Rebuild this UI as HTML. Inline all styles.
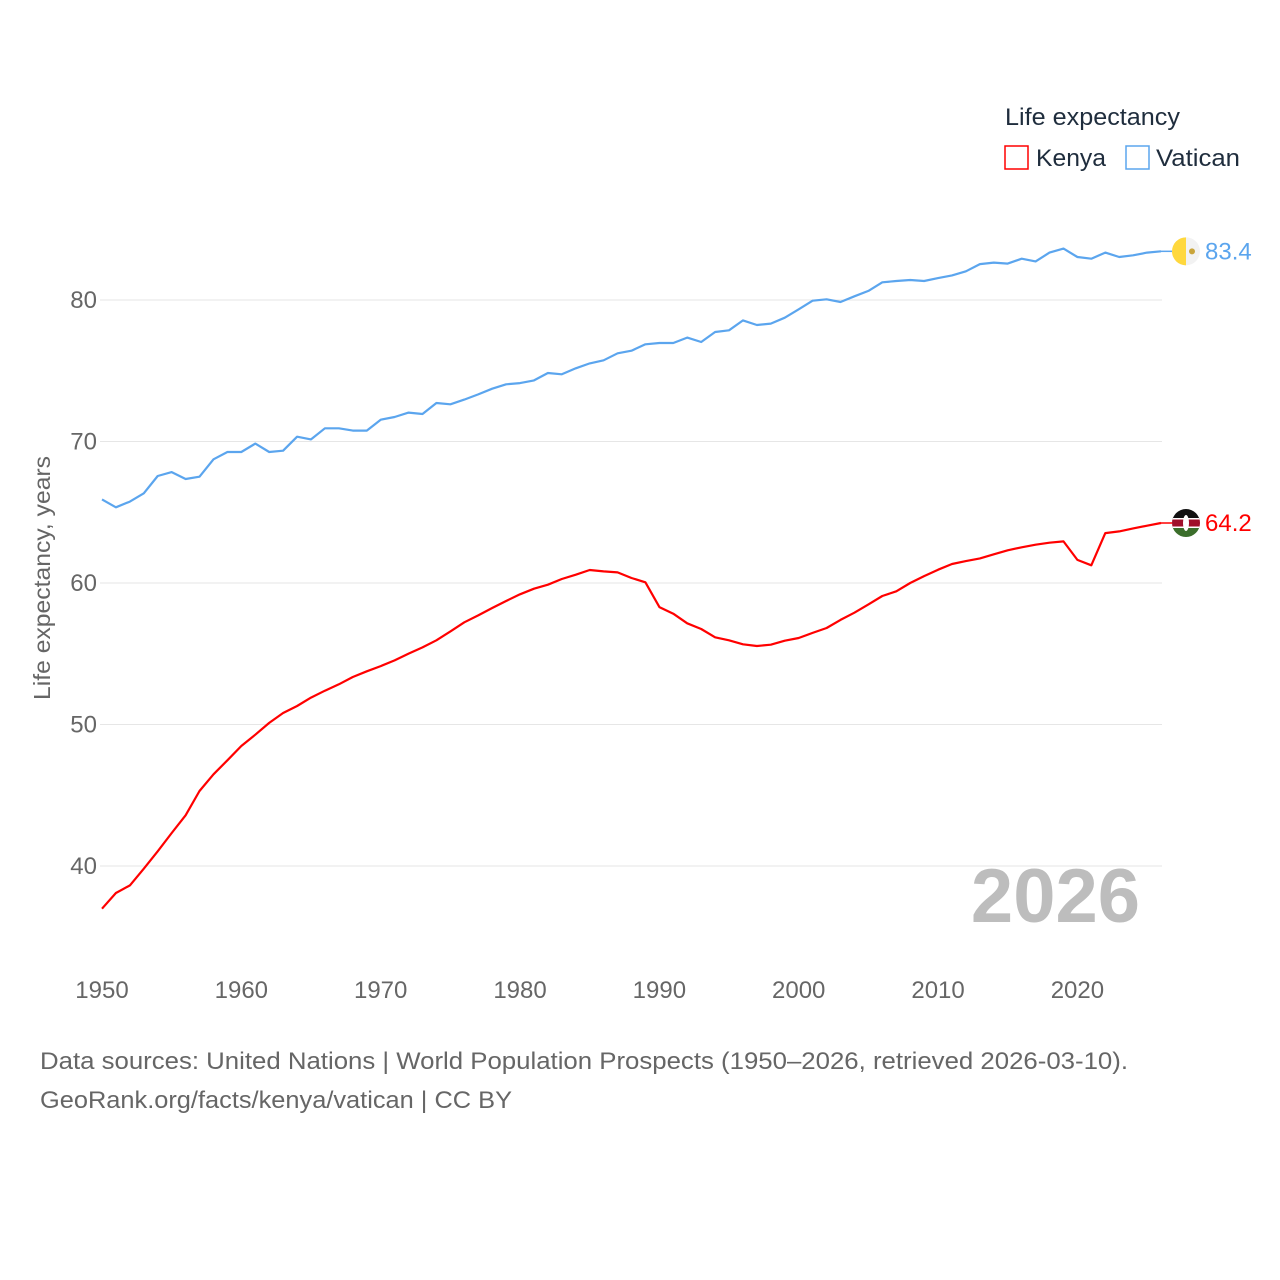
<!DOCTYPE html>
<html><head><meta charset="utf-8"><style>
body{margin:0;background:#fff;}
svg{display:block;font-family:"Liberation Sans",sans-serif;}
</style></head><body>
<svg id="chart" width="1280" height="1280" viewBox="0 0 1280 1280">
<g id="grid"></g>
<g id="yticks"></g>
<g id="xticks"></g>
<text transform="translate(50,578) rotate(-90)" text-anchor="middle" font-size="23" fill="#666" textLength="244" lengthAdjust="spacingAndGlyphs">Life expectancy, years</text>
<text x="1140" y="922" text-anchor="end" font-size="76" font-weight="bold" fill="#bdbdbd">2026</text>
<g id="lines"></g>
<g>
<text x="1005" y="125" font-size="24" fill="#1f2d3d" textLength="175" lengthAdjust="spacingAndGlyphs">Life expectancy</text>
<rect x="1005" y="146" width="23" height="23" fill="none" stroke="#f00" stroke-width="1.5"/>
<text x="1036" y="166" font-size="24" fill="#1f2d3d" textLength="70" lengthAdjust="spacingAndGlyphs">Kenya</text>
<rect x="1126" y="146" width="23" height="23" fill="none" stroke="#5ba5ee" stroke-width="1.5"/>
<text x="1156" y="166" font-size="24" fill="#1f2d3d" textLength="84" lengthAdjust="spacingAndGlyphs">Vatican</text>
</g>
<g id="ends"></g>
<text x="40" y="1069" font-size="24" fill="#666" textLength="1088" lengthAdjust="spacingAndGlyphs">Data sources: United Nations | World Population Prospects (1950–2026, retrieved 2026-03-10).</text>
<text x="40" y="1108" font-size="24" fill="#666" textLength="472" lengthAdjust="spacingAndGlyphs">GeoRank.org/facts/kenya/vatican | CC BY</text>
</svg>
<script>
const years = [];
for (let y = 1950; y <= 2026; y++) years.push(y);
const kenya = [36.98,38.09,38.63,39.81,41.04,42.33,43.58,45.30,46.48,47.47,48.48,49.28,50.11,50.81,51.31,51.90,52.39,52.84,53.36,53.76,54.13,54.53,55.01,55.45,55.95,56.58,57.22,57.71,58.23,58.73,59.20,59.60,59.88,60.28,60.59,60.92,60.82,60.75,60.35,60.05,58.30,57.83,57.15,56.75,56.16,55.95,55.67,55.55,55.64,55.92,56.11,56.47,56.82,57.39,57.90,58.49,59.08,59.41,60.00,60.49,60.94,61.34,61.55,61.74,62.03,62.31,62.52,62.71,62.85,62.94,61.63,61.25,63.53,63.65,63.86,64.05,64.24];
const vatican = [65.91,65.35,65.75,66.34,67.56,67.84,67.35,67.51,68.74,69.26,69.26,69.85,69.26,69.35,70.34,70.15,70.93,70.93,70.77,70.77,71.54,71.73,72.04,71.94,72.72,72.63,72.96,73.33,73.73,74.04,74.13,74.32,74.84,74.75,75.17,75.52,75.74,76.23,76.42,76.87,76.96,76.96,77.34,77.03,77.74,77.86,78.56,78.23,78.33,78.75,79.34,79.95,80.05,79.86,80.26,80.64,81.25,81.34,81.41,81.34,81.55,81.74,82.03,82.54,82.64,82.57,82.92,82.73,83.35,83.63,83.04,82.92,83.35,83.04,83.16,83.35,83.44];
const yTicks = [40,50,60,70,80];
const xTicks = [1950,1960,1970,1980,1990,2000,2010,2020];
const endLabels = ["64.2","83.4"];

const NS = "http://www.w3.org/2000/svg";
const xs = y => 102 + (y - 1950) * (1161 - 102) / 76;
const ys = v => 300 + (80 - v) * 14.15;
function mk(tag, attrs, parent, txt) {
  const e = document.createElementNS(NS, tag);
  for (const k in attrs) e.setAttribute(k, attrs[k]);
  if (txt !== undefined) e.textContent = txt;
  parent.appendChild(e);
  return e;
}
const grid = document.getElementById('grid');
const yt = document.getElementById('yticks');
yTicks.forEach(t => {
  const l = mk('line', {x1: 100, x2: 1162, y1: ys(t), y2: ys(t), stroke: '#e6e6e6', 'stroke-width': 1}, grid);
  
  
  const tx = mk('text', {x: 97, y: ys(t) + 8, 'text-anchor': 'end', 'font-size': 24, fill: '#666'}, yt, String(t));
  
  
});
const xt = document.getElementById('xticks');
xTicks.forEach(t => {
  const tx = mk('text', {x: xs(t), y: 998, 'text-anchor': 'middle', 'font-size': 24, fill: '#666'}, xt, String(t));
  
  
});
const lines = document.getElementById('lines');
function path(vals, color, name) {
  const d = vals.map((v, i) => (i ? 'L' : 'M') + xs(years[i]).toFixed(1) + ',' + ys(v).toFixed(1)).join('');
  const p = mk('path', {d: d, fill: 'none', stroke: color, 'stroke-width': 2.2, 'stroke-linejoin': 'round'}, lines);
  
  
}
path(vatican, '#5ba5ee', 'vatican-line');
path(kenya, '#f00', 'kenya-line');

const ends = document.getElementById('ends');
const last = years.length - 1;
const vy = ys(vatican[last]);
const vg = mk('g', {}, ends);


mk('line', {x1: 1161, x2: 1172, y1: vy, y2: vy, stroke: '#5ba5ee', 'stroke-width': 1.5}, vg);
mk('circle', {cx: 1186, cy: vy, r: 14, fill: '#f2f2f2'}, vg);
mk('path', {d: `M1186,${vy-14} A14,14 0 0 0 1186,${vy+14} Z`, fill: '#ffd83d'}, vg);
mk('circle', {cx: 1192, cy: vy, r: 3, fill: '#c9a43a'}, vg);
const vt = mk('text', {x: 1205, y: vy + 8, 'font-size': 24, fill: '#5ba5ee'}, ends, endLabels[1]);


const ky = ys(kenya[last]);
const kg = mk('g', {}, ends);


mk('line', {x1: 1161, x2: 1172, y1: ky, y2: ky, stroke: '#f00', 'stroke-width': 1.5}, kg);
mk('clipPath', {id: 'kc'}, kg).appendChild(document.createElementNS(NS, 'circle'));
const cc = kg.querySelector('clipPath circle');
cc.setAttribute('cx', 1186); cc.setAttribute('cy', ky); cc.setAttribute('r', 14);
const kf = mk('g', {'clip-path': 'url(#kc)'}, kg);
mk('rect', {x: 1172, y: ky - 14, width: 28, height: 10, fill: '#111'}, kf);
mk('rect', {x: 1172, y: ky - 4, width: 28, height: 8, fill: '#a0102a'}, kf);
mk('rect', {x: 1172, y: ky + 4, width: 28, height: 10, fill: '#3b6e2b'}, kf);
mk('rect', {x: 1172, y: ky - 5, width: 28, height: 1.5, fill: '#fff'}, kf);
mk('rect', {x: 1172, y: ky + 3.5, width: 28, height: 1.5, fill: '#fff'}, kf);
mk('ellipse', {cx: 1186, cy: ky, rx: 3, ry: 8, fill: '#fff'}, kf);
const kt = mk('text', {x: 1205, y: ky + 8, 'font-size': 24, fill: '#f00'}, ends, endLabels[0]);


</script>
</body></html>
